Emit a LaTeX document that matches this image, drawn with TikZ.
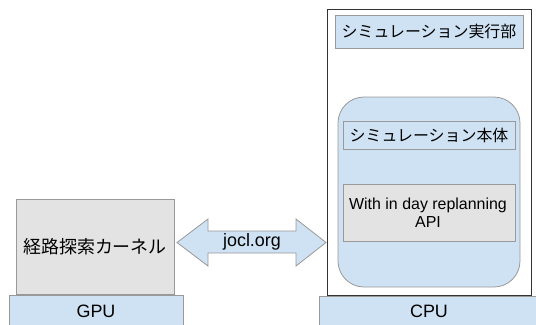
\documentclass[tikz,border=0pt]{standalone}
\usepackage{fontspec}
\setmainfont{Liberation Sans}
\newfontfamily\jp{Noto Sans CJK JP}
\definecolor{lblue}{HTML}{CFE2F3}
\definecolor{lgray}{HTML}{E3E3E3}
\definecolor{edge}{HTML}{999999}
\definecolor{dark}{HTML}{333333}
\begin{document}
\begin{tikzpicture}[x=1bp,y=-1bp,
  box/.style={draw=edge,line width=0.8bp},
  lbl/.style={inner sep=0pt,align=center,text=black}]
\useasboundingbox (0,0) rectangle (536,324);
\fill[white] (0,0) rectangle (536,324);
% CPU side
\draw[draw=dark,line width=0.8bp,fill=white] (327,9) rectangle (531,295);
\draw[box,fill=lblue] (319,296) rectangle (540,330);
\node[lbl,font=\fontsize{18}{20}\selectfont] (cpu) at (429,311) {CPU};
\draw[box,fill=lblue] (335,15) rectangle (523,48);
\node[lbl,font=\jp\fontsize{16}{18}\selectfont] (exec) at (429,31.5) {シミュレーション実行部};
\draw[box,fill=lblue,rounded corners=26bp] (338,97) rectangle (520,287);
\draw[box,fill=lblue] (343,121) rectangle (515,149);
\node[lbl,font=\jp\fontsize{16}{18}\selectfont] (body) at (429,135) {シミュレーション本体};
\draw[box,fill=lgray] (343,184) rectangle (515,241);
\node[lbl,font=\fontsize{16}{18}\selectfont] (api) at (428,212.5) {With in day replanning\\API};
% GPU side
\draw[box,fill=lblue] (9,295) rectangle (183,330);
\node[lbl,font=\fontsize{18}{20}\selectfont] (gpu) at (96,311) {GPU};
\draw[box,fill=lgray] (16,199) rectangle (174,294);
\node[lbl,font=\jp\fontsize{18}{20}\selectfont] (kernel) at (95,247) {経路探索カーネル};
% double arrow
\draw[box,fill=lblue,line join=miter] (177,242.5) -- (208,219) -- (208,231) -- (296,231) -- (296,219)
  -- (326,242.5) -- (296,266) -- (296,253) -- (208,253) -- (208,266) -- cycle;
\node[lbl,font=\fontsize{18}{20}\selectfont] (jocl) at (252,242) {jocl.org};
\end{tikzpicture}
\end{document}
